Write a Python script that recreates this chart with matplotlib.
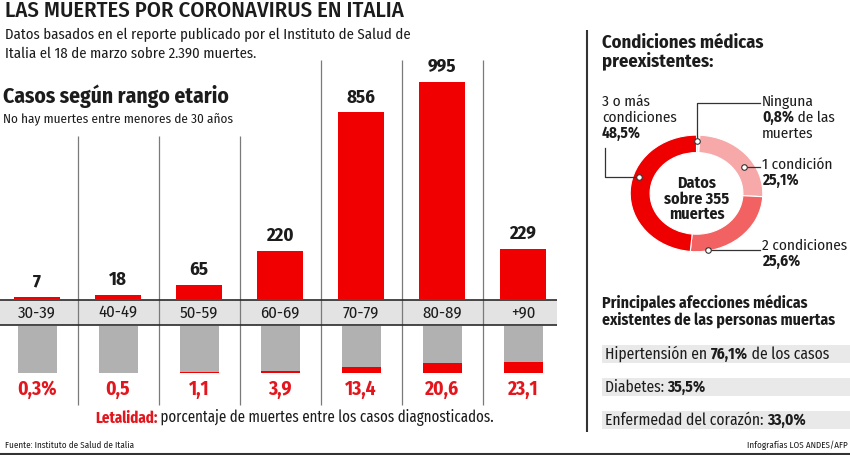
import matplotlib
matplotlib.use('Agg')
import matplotlib.pyplot as plt
from matplotlib.patches import Rectangle
from matplotlib.transforms import blended_transform_factory

plt.rcParams['font.family'] = ['Fira Sans Condensed', 'DejaVu Sans']
NARROW = ['Fira Sans Extra Condensed', 'Fira Sans Condensed', 'DejaVu Sans']

W, H = 850, 455

# datos
edades = ['30-39', '40-49', '50-59', '60-69', '70-79', '80-89', '+90']
muertes = [7, 18, 65, 220, 856, 995, 229]
letalidad = [0.3, 0.5, 1.1, 3.9, 13.4, 20.6, 23.1]
letalidad_txt = ['0,3%', '0,5', '1,1', '3,9', '13,4', '20,6', '23,1']

condiciones = ['Ninguna', '1 condición', '2 condiciones', '3 o más condiciones']
cond_pct = [0.8, 25.1, 25.6, 48.5]
cond_colores = ['#fde3e3', '#f7a9a9', '#f26262', '#ee0000']

afecciones = [
    [('Hipertensión en ', False), ('76,1%', True), (' de los casos', False)],
    [('Diabetes: ', False), ('35,5%', True)],
    [('Enfermedad del corazón: ', False), ('33,0%', True)],
]

RED = '#f00000'
RED_TXT = '#e3161d'
DARK = '#1c1c1c'
GRAY = '#b1b1b1'


def box(x0, y0, x1, y1):
    # pixel box (top-left origin) -> figure fraction
    return [x0 / W, 1 - y1 / H, (x1 - x0) / W, (y1 - y0) / H]


fig = plt.figure(figsize=(W / 100, H / 100), dpi=100)

# columnas: centro 37 px, paso 81 px
x = list(range(len(edades)))
xlim = (-37 / 81, (557 - 37) / 81)

# barras de muertes
ax_top = fig.add_axes(box(0, 60, 557, 299))
ax_top.bar(x, muertes, width=46 / 81, color=RED)
for i, v in enumerate(muertes):
    ax_top.annotate(str(v), xy=(i, v), xytext=(0, 6), textcoords='offset pixels',
                    ha='center', va='bottom', fontsize=13.5, fontweight='bold', color=DARK)
ax_top.set_xlim(*xlim)
ax_top.set_ylim(0, 995 * 239 / 217)
ax_top.axis('off')

# letalidad (gris = 100%)
ax_low = fig.add_axes(box(0, 326, 557, 373))
ax_low.bar(x, [100] * len(x), width=39 / 81, color=GRAY)
ax_low.bar(x, letalidad, width=39 / 81, color=RED)
ax_low.set_xlim(*xlim)
ax_low.set_ylim(0, 100)
ax_low.axis('off')

# donut
pa = fig.add_axes(box(630.2, 135.1, 762.8, 251.7))
pa.pie(cond_pct, colors=cond_colores, startangle=90, counterclock=False, radius=1,
       wedgeprops=dict(width=0.3, edgecolor='white', linewidth=0.8))
pa.set_xlim(-1, 1)
pa.set_ylim(-1, 1)
pa.set_aspect('auto')
pa.axis('off')

# capa de anotaciones en pixeles
ov = fig.add_axes([0, 0, 1, 1], zorder=10)
ov.set_xlim(0, W)
ov.set_ylim(H, 0)
ov.axis('off')
tr = blended_transform_factory(ax_top.transData, ov.transData)


def rich(xp, yp, parts, size, color=DARK, family=None):
    t = None
    for s, b in parts:
        kw = dict(fontsize=size, fontweight='bold' if b else 'normal',
                  color=color if not isinstance(color, list) else color.pop(0))
        if family:
            kw['family'] = family
        if t is None:
            t = ov.text(xp, yp, s, ha='left', va='baseline', **kw)
        else:
            t = ov.annotate(s, xy=(1, 0), xycoords=t, ha='left', va='bottom', **kw)
    return t


# titulos
ov.text(5, 17, 'LAS MUERTES POR CORONAVIRUS EN ITALIA', fontsize=16.3, fontweight='medium',
        color=DARK, va='baseline')
ov.text(5, 39, 'Datos basados en el reporte publicado por el Instituto de Salud de',
        fontsize=10.6, color=DARK, va='baseline')
ov.text(5, 58, 'Italia el 18 de marzo sobre 2.390 muertes.', fontsize=10.6, color=DARK, va='baseline')
ov.text(3, 103, 'Casos según rango etario', fontsize=15.5, fontweight='bold', color=DARK, va='baseline')
ov.text(3, 122, 'No hay muertes entre menores de 30 años', fontsize=9.5, color=DARK, va='baseline')

# banda de edades
ov.add_patch(Rectangle((0, 300), 557, 25, facecolor='#e3e3e3', edgecolor='none', zorder=0))
ov.hlines([300, 325], 0, 557, color='#2a2a2a', lw=1.2, zorder=3)
for i in range(len(edades) - 1):
    ov.vlines(i + 0.5, 136 if i < 3 else 60, 405, transform=tr, color='#7a7a7a', lw=0.9, zorder=1)
for i, lab in enumerate(edades):
    ov.text(i, 313, lab, transform=tr, ha='center', va='center', fontsize=12, color=DARK)
    ov.text(i, 389, letalidad_txt[i], transform=tr, ha='center', va='center',
            fontsize=14, fontweight='bold', color=RED_TXT)

rich(95, 423, [('Letalidad:', True), (' porcentaje de muertes entre los casos diagnosticados.', False)],
     11.7, color=[RED_TXT, DARK], family=NARROW)

ov.text(5, 448, 'Fuente: Instituto de Salud de Italia', fontsize=6.5, color=DARK, va='baseline')
ov.text(848, 448, 'Infografías LOS ANDES/AFP', fontsize=6.5, color=DARK, va='baseline', ha='right')
ov.hlines(453.5, 0, W, color='#333333', lw=1.5)

# panel derecho
ov.vlines(587, 30, 432, color='#333333', lw=1.5)
ov.text(602, 48, 'Condiciones médicas', fontsize=13.3, fontweight='bold', color=DARK, va='baseline')
ov.text(602, 66, 'preexistentes:', fontsize=13.3, fontweight='bold', color=DARK, va='baseline')

ov.text(697, 188, 'Datos', fontsize=11.5, fontweight='bold', color=DARK, ha='center', va='baseline')
ov.text(697, 204, 'sobre 355', fontsize=11.5, fontweight='bold', color=DARK, ha='center', va='baseline')
ov.text(697, 219, 'muertes', fontsize=11.5, fontweight='bold', color=DARK, ha='center', va='baseline')

# etiquetas del donut con lineas guia
lc = dict(color='#333333', lw=0.9, zorder=4)
ov.plot([697, 697, 760], [141, 103, 103], **lc)
ov.plot([744, 760], [167, 167], **lc)
ov.plot([708, 760], [250, 250], **lc)
ov.plot([639, 605, 605], [177, 177, 148], **lc)
ov.plot([697, 744, 708, 639], [141, 167, 250, 177], 'o', ms=4, mfc='white', mec='#333333',
        mew=0.8, zorder=5)

fs = 11
ov.text(762, 106, 'Ninguna', fontsize=fs, color=DARK, va='baseline')
rich(762, 122, [('0,8%', True), (' de las', False)], fs)
ov.text(762, 138, 'muertes', fontsize=fs, color=DARK, va='baseline')
ov.text(762, 169, '1 condición', fontsize=fs, color=DARK, va='baseline')
ov.text(762, 185, '25,1%', fontsize=fs, fontweight='bold', color=DARK, va='baseline')
ov.text(762, 250, '2 condiciones', fontsize=fs, color=DARK, va='baseline')
ov.text(762, 266, '25,6%', fontsize=fs, fontweight='bold', color=DARK, va='baseline')
ov.text(602, 106, '3 o más', fontsize=fs, color=DARK, va='baseline')
ov.text(602, 122, 'condiciones', fontsize=fs, color=DARK, va='baseline')
ov.text(602, 138, '48,5%', fontsize=fs, fontweight='bold', color=DARK, va='baseline')

# afecciones
ov.text(602, 308, 'Principales afecciones médicas', fontsize=11.4, fontweight='bold', color=DARK, va='baseline')
ov.text(602, 325, 'existentes de las personas muertas', fontsize=11.4, fontweight='bold', color=DARK, va='baseline')
for k, parts in enumerate(afecciones):
    y0 = 345 + k * 33
    ov.add_patch(Rectangle((602, y0), 248, 18, facecolor='#e9e9e9', edgecolor='none', zorder=0))
    rich(605, y0 + 14, parts, 11.2)

fig.savefig('out.png', dpi=100)
